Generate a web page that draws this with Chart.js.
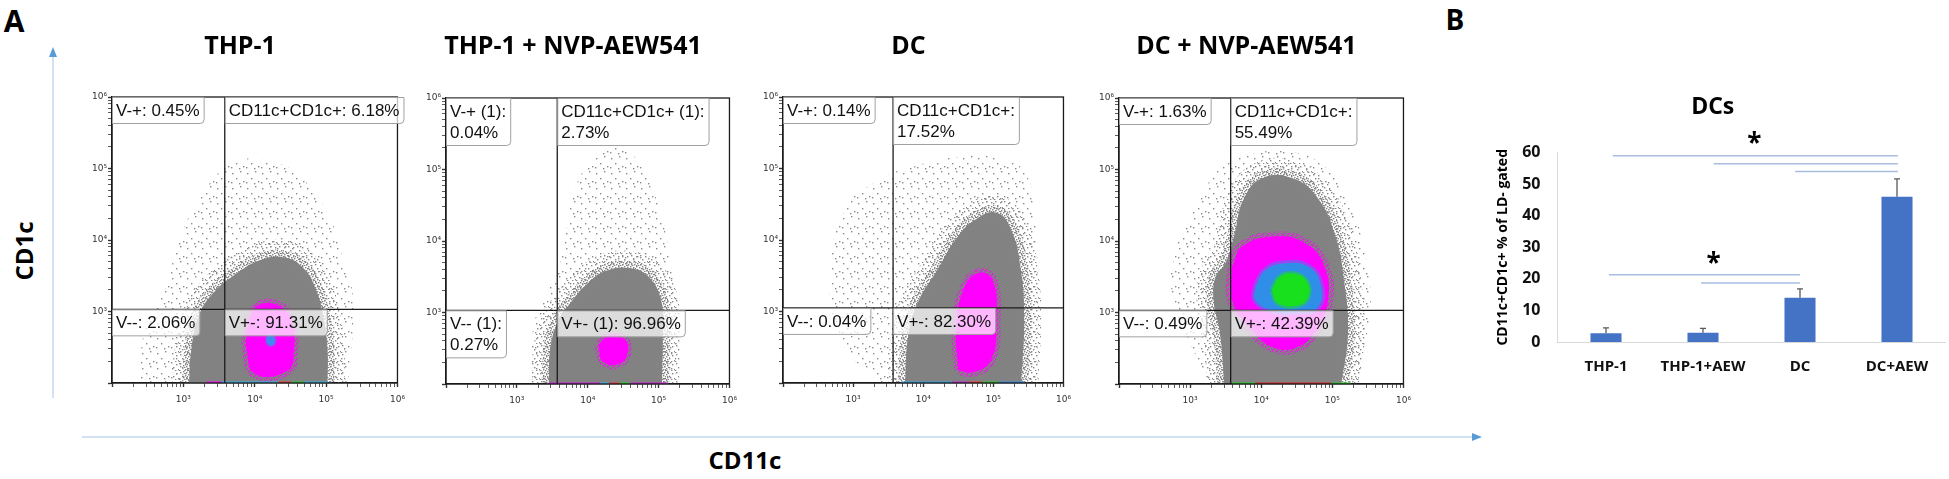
<!DOCTYPE html>
<html lang="en">
<head>
<meta charset="UTF-8">
<title>CD11c / CD1c</title>
<script src="https://cdn.jsdelivr.net/npm/chart.js@4.4.1/dist/chart.umd.min.js"></script>
<style>
  body { margin: 0; width: 1949px; height: 479px; background: #fff; position: relative; overflow: hidden; font-family: "Open Sans", sans-serif; }
  canvas { position: absolute; }
  .txt { position: absolute; font-weight: 700; color: #000; white-space: nowrap; line-height: 1; transform: translate(-50%, -50%); }
  svg { position: absolute; left: 0; top: 0; }
</style>
</head>
<body>
<!-- panel letters and shared axis names -->
<div class="txt" style="left:14px; top:21px; font-size:30px;">A</div>
<div class="txt" style="left:1455px; top:19px; font-size:28px;">B</div>
<div class="txt" style="left:24px; top:251px; font-size:24px; transform:translate(-50%,-50%) rotate(-90deg);">CD1c</div>
<div class="txt" style="left:745px; top:460px; font-size:24px;">CD11c</div>
<svg width="1949" height="479">
  <line x1="53" y1="398" x2="53" y2="56" stroke="#c3d8ee" stroke-width="1.5"/>
  <polygon points="53,47 49,57 57,57" fill="#5b9bd5"/>
  <line x1="82" y1="437" x2="1472" y2="437" stroke="#c3d8ee" stroke-width="1.5"/>
  <polygon points="1482,437 1472,433 1472,441" fill="#5b9bd5"/>
</svg>

<script>
// ---- panel A: flow plots, values are log10 of CD11c / CD1c intensity ----
const plotTitles = ['THP-1', 'THP-1 + NVP-AEW541', 'DC', 'DC + NVP-AEW541'];
const gateCD11c = [3.58, 3.57, 3.57, 3.57];
const gateCD1c = [3.03, 3.03, 3.05, 3.03];

const thp1Gates = ['V-+: 0.45%', 'CD11c+CD1c+: 6.18%', 'V--: 2.06%', 'V+-: 91.31%'];
const thp1AewGates = ['V-+ (1):\n0.04%', 'CD11c+CD1c+ (1):\n2.73%', 'V-- (1):\n0.27%', 'V+- (1): 96.96%'];
const dcGates = ['V-+: 0.14%', 'CD11c+CD1c+:\n17.52%', 'V--: 0.04%', 'V+-: 82.30%'];
const dcAewGates = ['V-+: 1.63%', 'CD11c+CD1c+:\n55.49%', 'V--: 0.49%', 'V+-: 42.39%'];

// outlines of the event clouds [log CD11c, log CD1c]
const thp1Sparse = [[2.39,2.0],[2.46,2.74],[2.74,3.30],[2.94,4.0],[3.22,4.56],[3.64,5.05],[4.13,5.12],[4.61,4.91],[5.03,4.35],[5.24,3.72],[5.38,3.16],[5.31,2.0]];
const thp1Dense = [[3.08,2.0],[3.11,2.46],[3.22,2.95],[3.42,3.26],[3.73,3.52],[4.08,3.72],[4.40,3.76],[4.66,3.63],[4.85,3.33],[4.96,2.93],[5.02,2.46],[5.02,2.0]];
const thp1Peak = [[3.87,2.53],[3.94,2.93],[4.08,3.10],[4.36,3.07],[4.52,2.86],[4.55,2.46],[4.46,2.17],[4.0,2.13],[3.87,2.53]];
const thp1Top = [[4.16,2.6],[4.2,2.67],[4.27,2.64],[4.27,2.55],[4.2,2.53],[4.16,2.6]];
const thp1Strip = [3.32, 3.54, 4.33, 4.51, 4.69, 5.03];

const thp1AewSparse = [[3.22,2.01],[3.22,2.71],[3.36,3.17],[3.59,3.64],[3.78,4.57],[3.97,5.03],[4.25,5.27],[4.53,5.27],[4.81,4.95],[5.04,4.34],[5.18,3.64],[5.27,2.94],[5.23,2.01]];
const thp1AewDense = [[3.45,2.0],[3.47,2.48],[3.58,2.88],[3.76,3.14],[3.99,3.40],[4.25,3.58],[4.60,3.62],[4.86,3.50],[5.04,3.15],[5.06,2.71],[5.05,2.0]];
const thp1AewPeak = [[4.15,2.55],[4.29,2.67],[4.50,2.64],[4.57,2.48],[4.46,2.29],[4.22,2.31],[4.15,2.55]];
const thp1AewStrip = [3.45, 4.17, 4.30, 4.45, 4.60, 5.13];

const dcSparse = [[3.37,2.0],[2.81,2.60],[2.67,3.44],[2.88,4.42],[3.37,4.84],[3.94,5.05],[4.50,5.16],[5.06,5.16],[5.45,4.94],[5.59,4.32],[5.63,3.62],[5.63,2.0]];
const dcDense = [[3.74,2.0],[3.79,2.69],[3.93,3.14],[4.20,3.58],[4.47,4.02],[4.75,4.29],[5.05,4.38],[5.26,4.13],[5.39,3.60],[5.44,2.93],[5.40,2.0]];
const dcPeak = [[4.50,2.18],[4.47,2.74],[4.57,3.30],[4.78,3.54],[4.99,3.44],[5.04,2.88],[4.97,2.32],[4.71,2.15],[4.50,2.18]];
const dcStrip = [3.69, 4.41, 4.65, 4.84, 5.08, 5.45];

const dcAewSparse = [[3.27,2.01],[3.04,2.48],[2.76,3.17],[2.80,3.87],[3.13,4.57],[3.45,5.04],[3.92,5.23],[4.52,5.23],[4.99,4.95],[5.27,4.48],[5.45,3.87],[5.54,3.17],[5.45,2.48],[5.36,2.01]];
const dcAewDense = [[3.48,2.01],[3.42,2.71],[3.33,3.17],[3.36,3.50],[3.50,3.70],[3.62,4.08],[3.76,4.60],[4.02,4.88],[4.43,4.88],[4.78,4.62],[5.04,4.08],[5.17,3.41],[5.22,2.71],[5.13,2.01]];
const dcAewPeak = [[3.59,3.64],[3.73,3.92],[4.15,4.06],[4.62,3.97],[4.89,3.64],[4.94,3.17],[4.80,2.80],[4.52,2.52],[4.15,2.52],[3.83,2.80],[3.59,3.17],[3.59,3.64]];
const dcAewRing = [[3.92,3.36],[4.06,3.59],[4.34,3.69],[4.66,3.64],[4.83,3.41],[4.80,3.08],[4.52,3.01],[4.15,3.03],[3.92,3.17],[3.92,3.36]];
const dcAewTop = [[4.15,3.31],[4.27,3.50],[4.48,3.54],[4.64,3.43],[4.66,3.22],[4.52,3.10],[4.24,3.13],[4.15,3.31]];
const dcAewStrip = [3.59, 3.92, 4.98, 5.26];

// colours of the events piled on the CD11c axis
const thp1StripColors = ['#ff00ff', '#2bb8f0', '#f03030', '#22cc22', '#2bb8f0'];
const thp1AewStripColors = ['#d01ce0', '#2bb8f0', '#f03030', '#22cc22', '#d01ce0'];
const dcStripColors = ['#2ba8f0', '#d01ce0', '#f03030', '#22cc22', '#2b8cf0'];
const dcAewStripColors = ['#22cc22', '#e02020', '#22cc22'];

// ---- panel B ----
const groups = ['THP-1', 'THP-1+AEW', 'DC', 'DC+AEW'];
const pctDCs = [2.8, 2.9, 14.0, 46.0];
const pctErr = [1.7, 1.4, 2.8, 5.7];
// [from group, to group, height]
const sigLines = [[0.07, 3.01, 59.0], [1.11, 3.01, 56.5], [1.95, 3.01, 54.0], [0.03, 2.0, 21.3], [0.98, 2.0, 18.7]];
const sigStars = [[1.53, 65], [1.11, 27]];

// tick positions of a log axis (decades 10^2 .. 10^6)
const logTicks = [];
for (let n = 2; n < 6; n++) {
  for (let k = 1; k < 10; k++) logTicks.push(k === 1 ? n : n + Math.log10(k));
}
logTicks.push(6);
const sup = {3: '\u00b3', 4: '\u2074', 5: '\u2075', 6: '\u2076'};

function dotPattern(size, dots, color) {
  const c = document.createElement('canvas');
  c.width = size; c.height = size;
  const g = c.getContext('2d');
  g.fillStyle = color;
  dots.forEach(function (d) { g.fillRect(d[0], d[1], 1.4, 1.4); });
  return g.createPattern(c, 'repeat');
}
const sparseDots = dotPattern(15, [[2,3],[10,1],[6,8],[13,11],[1,12],[9,13]], '#8a8a8a');
const looseDots = dotPattern(9, [[1,1],[6,2],[3,5],[8,7],[0,8],[5,8]], '#888');
const midDots = dotPattern(6, [[0,0],[3,1],[1,3],[4,4],[5,2],[2,5]], '#848484');
const magentaDots = dotPattern(5, [[0,0],[3,1],[1,3],[4,4]], '#ff00ff');

function cloud(pts, fillStyle, border, bw) {
  return {
    data: pts.map(function (p) { return {x: p[0], y: p[1]}; }),
    showLine: true, fill: 'shape', tension: 0.45, clip: 0,
    backgroundColor: fillStyle, borderColor: border || 'rgba(0,0,0,0)', borderWidth: bw || 0,
    pointRadius: 0
  };
}
// soft outer edge of a dense cloud
function rim(pts) {
  return {
    data: pts.map(function (p) { return {x: p[0], y: p[1]}; }),
    showLine: true, fill: false, tension: 0.45, clip: 0,
    borderColor: looseDots, borderWidth: 34, pointRadius: 0
  };
}
function strip(xs, colors) {
  return {
    data: xs.map(function (v) { return {x: v, y: 2}; }),
    showLine: true, fill: false, clip: 0, pointRadius: 0, borderWidth: 3,
    segment: { borderColor: function (c) { return colors[c.p0DataIndex]; } }
  };
}
function gateLine(pts) {
  return { data: pts, showLine: true, fill: false, borderColor: '#1a1a1a', borderWidth: 1.3, pointRadius: 0, clip: 0 };
}

function logAxis(isX) {
  return {
    type: 'linear', min: 2, max: 6,
    afterBuildTicks: function (a) { a.ticks = logTicks.map(function (v) { return {value: v}; }); },
    ticks: {
      autoSkip: false, maxRotation: 0, padding: isX ? 7 : 1, color: '#333',
      font: {family: 'DejaVu Sans', size: 9},
      callback: function (v) { return Number.isInteger(v) && v >= 3 ? '10' + sup[v] : ''; }
    },
    grid: { drawOnChartArea: false, tickLength: 4, tickColor: '#333',
            tickWidth: function (c) { return c.tick && Number.isInteger(c.tick.value) ? 1.4 : 0.8; } },
    border: { color: '#1a1a1a', width: 1.3 },
    afterFit: function (s) { if (isX) s.height = 32; else s.width = 32; }
  };
}

// frame + quadrant boxes
const gateBoxes = {
  id: 'gateBoxes',
  afterDatasetsDraw: function (chart, args, opts) {
    const ctx = chart.ctx, a = chart.chartArea;
    const gx = chart.scales.x.getPixelForValue(opts.gate[0]);
    const gy = chart.scales.y.getPixelForValue(opts.gate[1]);
    ctx.save();
    ctx.strokeStyle = '#1a1a1a'; ctx.lineWidth = 1.3;
    ctx.strokeRect(a.left, a.top, a.width, a.height);
    const anchors = [[a.left, a.top], [gx, a.top], [a.left, gy], [gx, gy]];
    ctx.font = '17px "Liberation Sans"';
    ctx.textBaseline = 'middle';
    opts.texts.forEach(function (t, i) {
      const lines = t.split('\n');
      const w = Math.max.apply(null, lines.map(function (l) { return ctx.measureText(l).width; })) + 8;
      const h = lines.length * 21 + 5;
      const bx = anchors[i][0], by = anchors[i][1];
      ctx.beginPath();
      ctx.roundRect(bx + 0.5, by + 0.5, w, h, [0, 0, 4, 0]);
      ctx.fillStyle = 'rgba(255,255,255,0.72)';
      ctx.fill();
      ctx.strokeStyle = '#a0a0a0'; ctx.lineWidth = 1;
      ctx.stroke();
      ctx.fillStyle = '#111';
      lines.forEach(function (l, j) { ctx.fillText(l, bx + 4, by + 14 + j * 21); });
    });
    ctx.restore();
  }
};

function addCanvas(left, top, width, height) {
  const c = document.createElement('canvas');
  c.width = width; c.height = height;
  c.style.left = left + 'px'; c.style.top = top + 'px';
  document.body.appendChild(c);
  return c;
}

function flowPlot(idx, area, layers, texts) {
  const top = 20;
  const canvas = addCanvas(area[0] - 32, top, area[2] - area[0] + 44, area[3] + 32 - top);
  const gx = gateCD11c[idx], gy = gateCD1c[idx];
  const datasets = [
    gateLine([{x: gx, y: 2}, {x: gx, y: 6}]),
    gateLine([{x: 2, y: gy}, {x: 6, y: gy}])
  ].concat(layers);
  new Chart(canvas, {
    type: 'scatter',
    data: { datasets: datasets },
    options: {
      responsive: false, animation: false, events: [],
      layout: { padding: { right: 12 } },
      plugins: {
        legend: { display: false }, tooltip: { enabled: false },
        title: { display: true, text: plotTitles[idx], color: '#000',
                 font: { family: 'Open Sans', size: 25, weight: 'bold' },
                 padding: { top: 12, bottom: area[1] - top - 42 } },
        gateBoxes: { gate: [gx, gy], texts: texts }
      },
      scales: { x: logAxis(true), y: logAxis(false) }
    },
    plugins: [gateBoxes]
  });
}

// layers listed top first (Chart.js paints the first dataset last)
flowPlot(0, [112, 97, 400, 383], [
  strip(thp1Strip, thp1StripColors),
  cloud(thp1Top, '#3f8cf0', 'rgba(63,140,240,0.5)', 3),
  cloud(thp1Peak, '#ff00ff', magentaDots, 9),
  cloud(thp1Dense, '#828282', midDots, 14),
  rim(thp1Dense),
  cloud(thp1Sparse, sparseDots)
], thp1Gates);

flowPlot(1, [446, 98, 732, 384], [
  strip(thp1AewStrip, thp1AewStripColors),
  cloud(thp1AewPeak, '#ff00ff', magentaDots, 8),
  cloud(thp1AewDense, '#828282', midDots, 14),
  rim(thp1AewDense),
  cloud(thp1AewSparse, sparseDots)
], thp1AewGates);

flowPlot(2, [783, 97, 1066, 383], [
  strip(dcStrip, dcStripColors),
  cloud(dcPeak, '#ff00ff', magentaDots, 9),
  cloud(dcDense, '#828282', midDots, 14),
  rim(dcDense),
  cloud(dcSparse, sparseDots)
], dcGates);

flowPlot(3, [1119, 98, 1406, 384], [
  strip(dcAewStrip, dcAewStripColors),
  cloud(dcAewTop, '#18e01c', 'rgba(24,224,28,0.5)', 5),
  cloud(dcAewRing, '#2f8fe8', 'rgba(47,143,232,0.5)', 6),
  cloud(dcAewPeak, '#ff00ff', magentaDots, 10),
  cloud(dcAewDense, '#828282', midDots, 14),
  rim(dcAewDense),
  cloud(dcAewSparse, sparseDots)
], dcAewGates);

// ---- panel B bar chart ----
const errorBars = {
  id: 'errorBars',
  afterDatasetsDraw: function (chart) {
    const ctx = chart.ctx, y = chart.scales.y;
    ctx.save();
    ctx.strokeStyle = '#5a5a5a'; ctx.lineWidth = 1.3;
    chart.getDatasetMeta(0).data.forEach(function (bar, i) {
      const yTop = y.getPixelForValue(pctDCs[i] + pctErr[i]);
      ctx.beginPath();
      ctx.moveTo(bar.x, bar.y); ctx.lineTo(bar.x, yTop);
      ctx.moveTo(bar.x - 3, yTop); ctx.lineTo(bar.x + 3, yTop);
      ctx.stroke();
    });
    ctx.restore();
  }
};
const sigMarks = {
  id: 'sigMarks',
  afterDatasetsDraw: function (chart) {
    const ctx = chart.ctx, x = chart.scales.x, y = chart.scales.y;
    ctx.save();
    ctx.strokeStyle = '#a8bde0'; ctx.lineWidth = 1.5;
    sigLines.forEach(function (s) {
      const py = y.getPixelForValue(s[2]);
      ctx.beginPath();
      ctx.moveTo(x.getPixelForValue(s[0]), py);
      ctx.lineTo(x.getPixelForValue(s[1]), py);
      ctx.stroke();
    });
    ctx.fillStyle = '#000';
    ctx.font = 'bold 26px "Open Sans"';
    ctx.textAlign = 'center'; ctx.textBaseline = 'alphabetic';
    sigStars.forEach(function (s) {
      ctx.fillText('*', x.getPixelForValue(s[0]), y.getPixelForValue(s[1]) + 15);
    });
    ctx.restore();
  }
};

const barCanvas = addCanvas(1480, 70, 469, 330);
new Chart(barCanvas, {
  type: 'bar',
  data: {
    labels: groups,
    datasets: [{ data: pctDCs, backgroundColor: '#4472c4', barPercentage: 0.32, categoryPercentage: 1 }]
  },
  options: {
    responsive: false, animation: false, events: [],
    layout: { padding: { right: 3.5 } },
    plugins: {
      legend: { display: false }, tooltip: { enabled: false },
      title: { display: true, text: 'DCs', color: '#000',
               font: { family: 'Open Sans', size: 23, weight: 'bold' },
               padding: { top: 24, bottom: 31 } }
    },
    scales: {
      x: {
        grid: { display: false, drawTicks: false },
        border: { color: '#d9d9d9' },
        ticks: { color: '#111', padding: 16, font: { family: 'Open Sans', size: 15, weight: 'bold' } },
        afterFit: function (s) { s.height = 58; }
      },
      y: {
        min: 0, max: 60,
        grid: { display: false, drawTicks: false },
        border: { color: '#d9d9d9' },
        ticks: { stepSize: 10, color: '#111', padding: 17, font: { family: 'Open Sans', size: 16, weight: 'bold' } },
        title: { display: true, text: 'CD11c+CD1c+ % of LD- gated', color: '#000',
                 font: { family: 'Open Sans', size: 14, weight: 'bold' }, padding: { top: 14.6, bottom: 0 } },
        afterFit: function (s) { s.width = 77.5; }
      }
    }
  },
  plugins: [errorBars, sigMarks]
});
</script>
</body>
</html>
